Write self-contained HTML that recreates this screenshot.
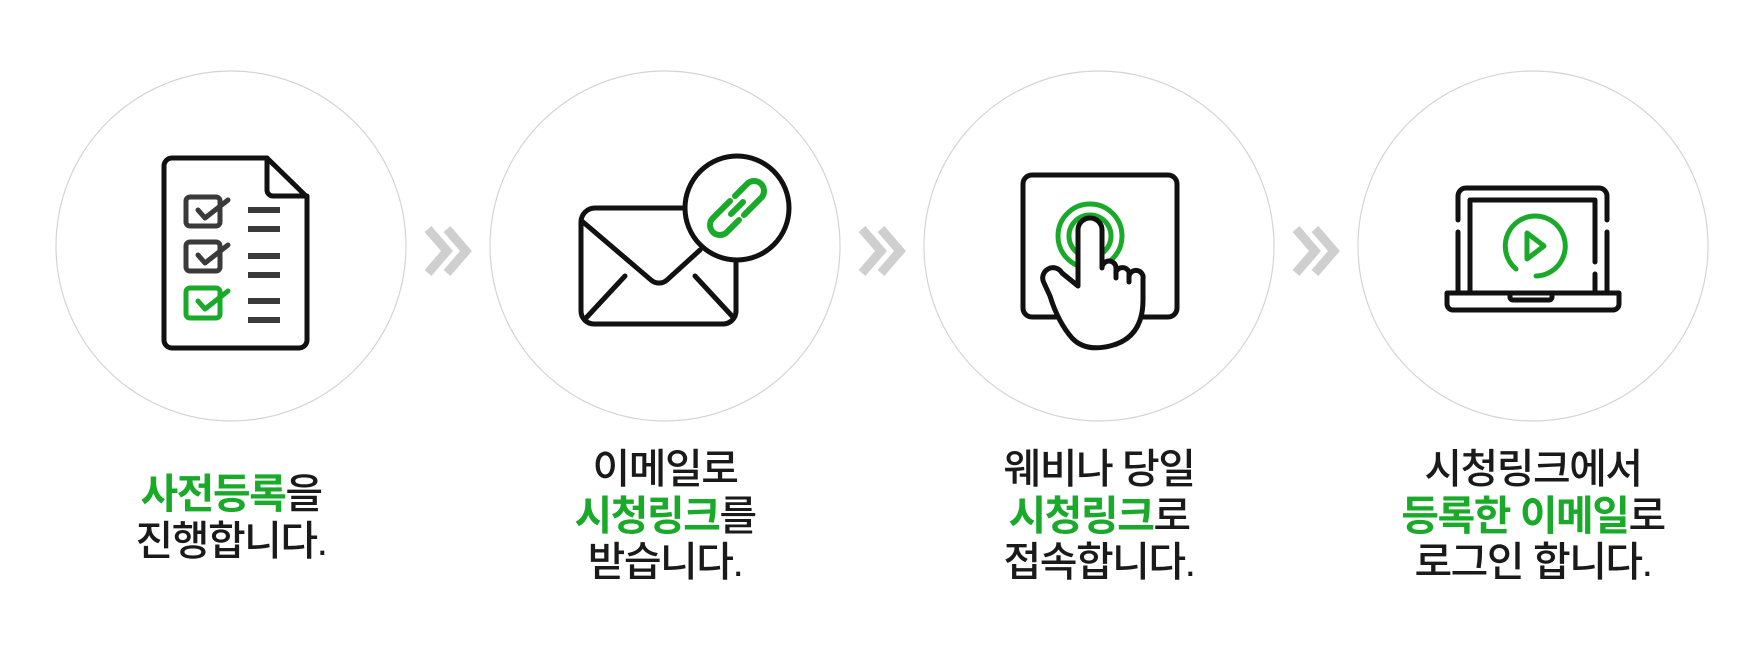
<!DOCTYPE html>
<html><head><meta charset="utf-8">
<style>
html,body{margin:0;padding:0;background:#fff;}
body{width:1760px;height:665px;position:relative;overflow:hidden;font-family:"Liberation Sans","Noto Sans CJK KR",sans-serif;}
svg{position:absolute;left:0;top:0;}
.t{position:absolute;width:440px;text-align:center;font-size:41px;line-height:46.5px;color:#1a1a1a;font-weight:500;letter-spacing:-1.5px;}
.g{color:#1aaa2a;font-weight:700;}
</style></head><body>
<svg width="1760" height="665" viewBox="0 0 1760 665">
<g fill="none" stroke="#d4d4d4" stroke-width="1.2">
<circle cx="231" cy="246" r="175"/>
<circle cx="665" cy="246" r="175"/>
<circle cx="1099" cy="246" r="175"/>
<circle cx="1533" cy="246" r="175"/>
</g>
<g fill="none" stroke="#cfcfcf" stroke-width="9">
<polyline points="428,229 447,251 428,273"/><polyline points="447,229 466,251 447,273"/>
<polyline points="862,229 881,251 862,273"/><polyline points="881,229 900,251 881,273"/>
<polyline points="1296,229 1315,251 1296,273"/><polyline points="1315,229 1334,251 1315,273"/>
</g>
<!-- icon 1 -->
<g stroke-linejoin="round" stroke-linecap="round" fill="none">
<path d="M172,158 H267 L307,197 V340 a8,8 0 0 1 -8,8 H172 a8,8 0 0 1 -8,-8 V166 a8,8 0 0 1 8,-8 Z" stroke="#111" stroke-width="5"/>
<path d="M267,158 V190 a6,6 0 0 0 6,6 H307" stroke="#111" stroke-width="5"/>
<g stroke="#3a3a3a" stroke-width="5">
<rect x="186" y="197" width="34" height="29" rx="4"/>
<rect x="186" y="242" width="34" height="29" rx="4"/>
</g>
<rect x="186" y="288" width="34" height="30" rx="4" stroke="#1aaa2a" stroke-width="5"/>
<g stroke="#3a3a3a" stroke-width="5"><polyline points="198,210 205,218 228,200"/><polyline points="198,255 205,263 228,245"/></g>
<polyline points="198,301 205,309 228,291" stroke="#1aaa2a" stroke-width="5"/>
<g stroke="#3a3a3a" stroke-width="6" stroke-linecap="butt">
<line x1="248" y1="210" x2="280" y2="210"/><line x1="248" y1="229" x2="280" y2="229"/>
<line x1="248" y1="256" x2="280" y2="256"/><line x1="248" y1="275" x2="280" y2="275"/>
<line x1="248" y1="301" x2="280" y2="301"/><line x1="248" y1="320" x2="280" y2="320"/>
</g>
</g>
<!-- icon 2 -->
<g fill="none" stroke="#111" stroke-width="5" stroke-linecap="round" stroke-linejoin="round">
<path d="M686,208 H595 a14,14 0 0 0 -14,14 V311 a13,13 0 0 0 13,13 H723 a13,13 0 0 0 13,-13 V258"/>
<path d="M583,222 L651,280 a12,12 0 0 0 16,0 L700,250"/>
<line x1="625" y1="276" x2="586" y2="318"/>
<line x1="695" y1="276" x2="732" y2="316"/>
<circle cx="737" cy="208" r="52" fill="#fff"/>
</g>
<g fill="none" stroke="#1aaa2a" stroke-width="6" stroke-linecap="round">
<path d="M735,196 L748,183 a10,10 0 0 1 14,14 L744,215"/>
<path d="M739,220 L726,233 a10,10 0 0 1 -14,-14 L730,201"/>
<line x1="731" y1="214" x2="743" y2="202"/>
</g>
<!-- icon 3 -->
<rect x="1023" y="175" width="154" height="142" rx="9" fill="none" stroke="#111" stroke-width="5"/>
<circle cx="1090" cy="236" r="32" fill="none" stroke="#1aaa2a" stroke-width="5"/>
<circle cx="1090" cy="236" r="21" fill="none" stroke="#1aaa2a" stroke-width="5"/>
<path d="M1078,238 V230 a12,12 0 0 1 24,0 V268 a7,7 0 0 1 14,0 V272 a7,7 0 0 1 13,0 V276 a7,7 0 0 1 14,3 V300 Q1143,338 1110,346 Q1085,352 1072,338 Q1058,322 1050,296 L1044,283 a10,10 0 0 1 18,-10 L1078,286 Z" fill="#fff" stroke="#111" stroke-width="5" stroke-linejoin="round"/>
<g stroke="#111" stroke-width="5" stroke-linecap="round"><line x1="1116" y1="268" x2="1116" y2="278"/><line x1="1129" y1="272" x2="1129" y2="282"/></g>
<!-- icon 4 -->
<g fill="none" stroke="#111" stroke-width="5" stroke-linecap="round" stroke-linejoin="round">
<path d="M1458,220 V196 a8,8 0 0 1 8,-8 H1599 a8,8 0 0 1 8,8 V220"/>
<path d="M1458,232 V292"/><path d="M1607,232 V292"/>
<path d="M1470,292 V200 H1595 V262"/><path d="M1595,274 V292"/>
<path d="M1447,293 H1619 V304 a6,6 0 0 1 -6,6 H1453 a6,6 0 0 1 -6,-6 Z"/>
<path d="M1510,293 V297 a3,3 0 0 0 3,3 H1549 a3,3 0 0 0 3,-3 V293"/>
</g>
<g fill="none" stroke="#1aaa2a" stroke-width="5" stroke-linecap="round" stroke-linejoin="round">
<path d="M1516,269 A30,30 0 1 1 1536,276"/>
<polygon points="1527,233 1527,259 1544,246"/>
</g>
</svg>
<div class="t" style="left:11px;top:471px;"><span class="g">사전등록</span>을<br>진행합니다.</div>
<div class="t" style="left:445px;top:446px;">이메일로<br><span class="g">시청링크</span>를<br>받습니다.</div>
<div class="t" style="left:879px;top:446px;">웨비나 당일<br><span class="g">시청링크</span>로<br>접속합니다.</div>
<div class="t" style="left:1313px;top:446px;">시청링크에서<br><span class="g">등록한 이메일</span>로<br>로그인 합니다.</div>
</body></html>
